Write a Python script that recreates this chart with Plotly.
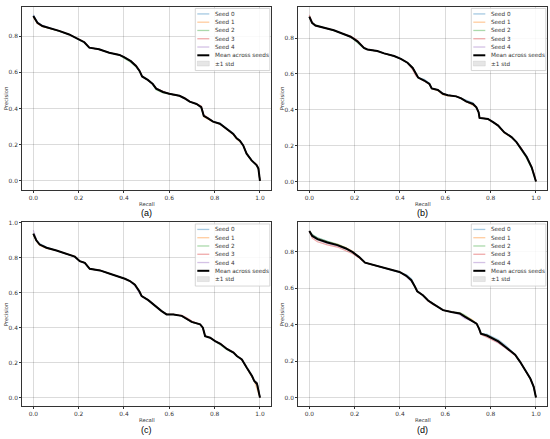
import numpy as np
import plotly.graph_objects as go

# ---- data ----
# recall grid and mean precision per panel, seed offsets in thousandths

recall_a = [0.0, 0.018, 0.04, 0.07, 0.114, 0.158, 0.2, 0.225, 0.247, 0.29, 0.335, 0.38, 0.40, 0.43,
            0.453, 0.468, 0.48, 0.505, 0.527, 0.542, 0.572, 0.60, 0.645, 0.667, 0.69, 0.72, 0.741,
            0.752, 0.771, 0.793, 0.823, 0.852, 0.882, 0.897, 0.911, 0.926, 0.941, 0.963, 0.985, 0.993, 1.0]
prec_a = [0.91, 0.873, 0.855, 0.844, 0.829, 0.809, 0.78, 0.767, 0.736, 0.727, 0.708, 0.696, 0.685, 0.663,
          0.635, 0.608, 0.577, 0.558, 0.535, 0.511, 0.492, 0.481, 0.47, 0.456, 0.437, 0.425, 0.406,
          0.36, 0.346, 0.328, 0.315, 0.287, 0.26, 0.236, 0.223, 0.196, 0.15, 0.113, 0.086, 0.068, 0.0]
dev_a = [
    [8, 4, 3, 2, 0, 0, 0, 0, 0, 0, 0, 0, 0, 0, 0, 0, 0, 0, 0, 0, 0, 0, 0, 0, 0, 0, 0, 0, 0, 0, 4, 6, 3, 0, 0, 0, 0, 0, 0, 0, 0],
    [-6, -4, -2, 0, 0, 0, 0, 0, 0, 0, 0, 0, 0, 0, 0, 0, 0, 0, 0, 0, 0, 0, 0, 0, 0, 0, 0, -6, -4, -3, 0, -3, -4, -5, -6, 0, 0, 0, 0, 0, 0],
    [0, 0, 0, 0, 0, 0, 0, -4, 0, 0, 0, 0, -8, -8, -5, 0, 0, 0, 0, -8, -6, 0, 0, 0, 0, 0, 0, 0, 0, 0, 0, 0, 0, 0, 0, 0, 0, 0, 0, 0, 0],
    [0, -3, -2, 0, 0, 0, 0, 0, 0, 0, 0, 0, 0, 0, 5, 4, 0, 0, 0, 0, 3, 0, 0, 3, 3, 0, 8, 5, 0, 0, 0, 0, 0, 0, 0, 0, 0, 0, 5, 4, 0],
    [4, 5, 4, 3, 0, 0, 0, 0, 0, 0, 0, 0, 0, 0, 0, 0, 0, 0, 0, 0, 0, 0, 0, 0, 0, 0, 0, 0, 0, 0, 0, 0, 0, 0, 0, 0, 0, 0, 0, 0, 0],
]

recall_b = [0.0, 0.012, 0.027, 0.064, 0.108, 0.145, 0.182, 0.212, 0.241, 0.256, 0.30, 0.33, 0.374, 0.404,
            0.433, 0.456, 0.47, 0.48, 0.507, 0.53, 0.54, 0.567, 0.589, 0.611, 0.648, 0.67, 0.692, 0.722,
            0.737, 0.747, 0.751, 0.788, 0.811, 0.833, 0.86, 0.892, 0.914, 0.936, 0.959, 0.981, 0.993, 1.0]
prec_b = [0.918, 0.885, 0.87, 0.857, 0.844, 0.826, 0.807, 0.783, 0.746, 0.737, 0.728, 0.715, 0.70, 0.684,
          0.663, 0.636, 0.604, 0.58, 0.562, 0.543, 0.519, 0.512, 0.491, 0.482, 0.475, 0.464, 0.445, 0.432,
          0.414, 0.386, 0.355, 0.349, 0.331, 0.312, 0.275, 0.248, 0.22, 0.183, 0.137, 0.081, 0.035, 0.0]
dev_b = [
    [0, 0, 0, 0, 0, 0, 0, 0, 0, 0, 0, 0, 0, 0, 0, 0, 0, 0, 8, 6, 0, 0, 0, 0, 0, 0, 8, 8, 0, 0, 0, 0, 0, 0, 0, 0, 0, 0, 6, 0, 0, 0],
    [0, 0, 0, 0, 0, 0, 0, 0, 0, 0, 0, 0, 0, 0, 0, 0, 0, 0, 0, 0, 0, -5, -6, -4, 0, 0, 0, -5, 0, 0, 0, 0, 0, 0, -4, 0, 0, 0, 0, 0, 0, 0],
    [0, 0, 4, 3, 0, 0, 0, -8, -4, 0, 0, 0, 0, 0, 0, 0, 0, 0, 0, 0, 0, 0, 0, 0, 0, 0, 0, 0, 0, 0, 0, 0, 0, 0, 0, 0, 0, -5, -8, -8, -6, 0],
    [12, 4, 0, 0, 0, 0, 4, 5, 0, 0, 0, 0, 0, 0, 0, -12, -14, 0, 0, 0, 0, 0, 0, 0, 0, 0, 0, 0, 0, 0, 0, 0, 0, 0, 0, 0, 0, 0, 0, 0, 0, 0],
    [0, 0, 0, 0, 0, 0, 0, 0, 0, 0, 0, 0, 0, 0, 0, 0, 0, 0, 0, 0, 0, 0, 0, 0, 0, 0, 0, 0, 0, 0, 0, 0, 0, 0, 0, 0, 0, 0, 0, 0, 0, 0],
]

recall_c = [0.0, 0.013, 0.028, 0.058, 0.102, 0.146, 0.183, 0.205, 0.227, 0.249, 0.294, 0.338, 0.375, 0.404,
            0.426, 0.448, 0.468, 0.478, 0.507, 0.53, 0.544, 0.566, 0.588, 0.618, 0.655, 0.677, 0.699, 0.736,
            0.748, 0.758, 0.78, 0.802, 0.825, 0.854, 0.883, 0.898, 0.92, 0.942, 0.965, 0.975, 0.987, 1.0]
prec_c = [0.933, 0.90, 0.876, 0.857, 0.842, 0.823, 0.806, 0.781, 0.771, 0.737, 0.728, 0.709, 0.695, 0.68,
          0.667, 0.648, 0.61, 0.581, 0.558, 0.533, 0.514, 0.495, 0.476, 0.476, 0.467, 0.451, 0.432, 0.419,
          0.40, 0.352, 0.343, 0.324, 0.31, 0.28, 0.257, 0.238, 0.219, 0.171, 0.124, 0.095, 0.086, 0.0]
dev_c = [
    [0, 0, 5, 5, 0, 0, 0, 0, 0, 0, 0, 0, 0, 0, 0, 0, 0, 0, 0, 0, 0, 0, 0, 0, 0, 0, 0, 0, 0, 0, 0, 0, 0, 0, 0, 0, 0, 0, 0, 0, 0, 0],
    [0, -4, -6, -3, 0, 0, 3, 0, 0, 0, 0, 0, 0, 0, 0, 0, 0, 0, 0, 0, 0, 0, 0, 0, 0, 0, 0, 0, 0, 0, 0, 0, 0, 0, 0, 0, 0, 0, 0, 0, -40, 0],
    [0, 0, 0, 0, 0, 0, 0, 0, 0, 0, 0, 0, 0, 0, 0, 0, 0, 0, 0, 0, 0, 0, 0, 0, 0, 0, 0, 0, 0, 0, 0, 0, -8, -6, 0, 0, 0, 0, 0, 0, 0, 0],
    [0, 0, 0, 0, 0, 0, 0, 0, 0, 0, 0, 0, 0, 0, 0, 0, 0, 0, 0, 0, 0, 0, 0, 0, 4, 6, 6, 0, 0, 0, 0, 0, 0, 0, 5, 0, 0, 0, 0, 0, 0, 0],
    [25, 6, 0, 0, 0, 0, 0, 0, 0, 0, 0, 0, 0, 0, 0, -8, -12, 0, 0, 0, 0, 0, 0, 0, 0, 0, 0, 0, 0, 0, 0, 0, 0, 0, 0, 0, 0, 0, 0, 0, 0, 0],
]

recall_d = [0.0, 0.013, 0.036, 0.08, 0.124, 0.161, 0.191, 0.22, 0.246, 0.272, 0.317, 0.361, 0.398, 0.428,
            0.45, 0.465, 0.476, 0.501, 0.524, 0.546, 0.568, 0.59, 0.627, 0.664, 0.686, 0.716, 0.738,
            0.749, 0.757, 0.783, 0.812, 0.834, 0.864, 0.886, 0.908, 0.93, 0.953, 0.975, 0.99, 1.0]
prec_d = [0.915, 0.888, 0.87, 0.851, 0.837, 0.818, 0.80, 0.773, 0.741, 0.732, 0.718, 0.703, 0.69, 0.668,
          0.644, 0.611, 0.584, 0.562, 0.534, 0.516, 0.498, 0.48, 0.47, 0.461, 0.443, 0.424, 0.406,
          0.379, 0.352, 0.343, 0.325, 0.31, 0.279, 0.256, 0.236, 0.196, 0.15, 0.104, 0.059, 0.0]
dev_d = [
    [0, 6, 8, 8, 6, 5, 0, 0, 0, 0, 0, 0, 0, 8, 10, 0, 0, 0, 0, 0, 0, 0, 0, 0, 0, 0, 0, 0, 0, 5, 5, 8, 10, 8, 0, 0, 0, 0, 0, 0],
    [0, 0, 3, 4, 5, 6, 4, 0, 0, 0, 0, 0, 0, 0, 0, 0, 0, 0, 0, 0, 0, 0, 0, 3, 5, 6, 0, 0, 0, 0, 0, 0, 0, 0, 0, 0, 0, 0, 0, 0],
    [0, 8, 8, 7, 6, 5, 0, 0, 0, 0, 0, 0, 0, 0, 0, 0, 0, 0, 0, 0, 0, 0, 0, 6, 10, 0, 0, 0, 0, 0, 0, 0, 0, 0, 0, 0, 0, 0, 0, 0],
    [0, -12, -14, -12, -10, -10, -10, -6, 0, 0, 0, 0, 0, 0, 0, 0, 0, 0, -4, -5, 0, 0, 0, 0, 0, 0, 0, 0, -6, -12, -10, -10, -6, -6, -5, 0, 0, 0, 0, 0],
    [0, -2, -3, -4, -4, 0, 0, 0, 0, 0, 0, 0, 0, -4, -6, 0, 0, 0, 0, 0, 0, 0, 0, -6, -8, -3, 0, 0, 0, -4, -6, -8, -4, 0, 0, 0, 0, 0, 0, 0],
]

seed_names = ['Seed 0', 'Seed 1', 'Seed 2', 'Seed 3', 'Seed 4']
seed_colors = ['rgba(31,119,180,0.4)', 'rgba(255,127,14,0.4)', 'rgba(44,160,44,0.4)',
               'rgba(214,39,40,0.4)', 'rgba(148,103,189,0.4)']
captions = ['(a)', '(b)', '(c)', '(d)']
x_ticks = [0.0, 0.2, 0.4, 0.6, 0.8, 1.0]
y_ticks = [0.0, 0.2, 0.4, 0.6, 0.8, 1.0]

W, H = 550, 439

# frame of each panel in pixels: left, top, right, bottom
frames = [(22, 4, 271.3, 188), (298, 4, 547.3, 188),
          (22, 221, 271.3, 406), (298, 221, 547.3, 406)]
y_ranges = [[-0.049, 0.961], [-0.046, 0.974], [-0.049, 1.002], [-0.048, 0.962]]

panels = [(recall_a, prec_a, dev_a), (recall_b, prec_b, dev_b),
          (recall_c, prec_c, dev_c), (recall_d, prec_d, dev_d)]


def px(x):
    return x / W


def py(y):
    return 1 - y / H


fig = go.Figure()
shapes = []
annotations = []
tick_font = dict(family='DejaVu Sans', size=5.9, color='#333333')
label_font = dict(family='DejaVu Sans', size=5.3, color='#333333')

for k, (rec, prec, devs) in enumerate(panels):
    ax = '' if k == 0 else str(k + 1)
    rec = np.array(rec)
    seeds = np.array([np.array(prec) + np.array(d) / 1000.0 for d in devs])
    seeds = np.clip(seeds, 0, None)
    mean = seeds.mean(axis=0)
    std = seeds.std(axis=0)

    for s in range(5):
        fig.add_trace(go.Scatter(x=rec, y=seeds[s], mode='lines', name=seed_names[s],
                                 line=dict(color=seed_colors[s], width=1.2),
                                 xaxis='x' + ax, yaxis='y' + ax, showlegend=False, hoverinfo='skip'))
    fig.add_trace(go.Scatter(x=np.concatenate([rec, rec[::-1]]),
                             y=np.concatenate([mean + std, (mean - std)[::-1]]),
                             fill='toself', fillcolor='rgba(128,128,128,0.2)', line=dict(width=0),
                             mode='lines', xaxis='x' + ax, yaxis='y' + ax, showlegend=False, hoverinfo='skip'))
    fig.add_trace(go.Scatter(x=rec, y=mean, mode='lines', name='Mean across seeds',
                             line=dict(color='black', width=2),
                             xaxis='x' + ax, yaxis='y' + ax, showlegend=False))

    left, top, right, bottom = frames[k]
    axis_common = dict(showgrid=True, gridcolor='rgba(0,0,0,0.14)', gridwidth=0.8, zeroline=False,
                       showline=True, linecolor='#333333', linewidth=0.8, mirror=True,
                       ticks='outside', ticklen=2, tickwidth=0.8, tickcolor='#333333',
                       tickfont=tick_font)
    fig.update_layout(**{
        'xaxis' + ax: dict(domain=[px(left), px(right)], range=[-0.05, 1.05], anchor='y' + ax,
                           tickvals=x_ticks, ticktext=['%.1f' % t for t in x_ticks], **axis_common),
        'yaxis' + ax: dict(domain=[py(bottom), py(top)], range=y_ranges[k], anchor='x' + ax,
                           tickvals=y_ticks, ticktext=['%.1f' % t for t in y_ticks], **axis_common),
    })

    cx = (left + right) / 2
    cy = (top + bottom) / 2
    centred = dict(xref='paper', yref='paper', xanchor='center', yanchor='middle', showarrow=False)
    annotations.append(dict(text='Recall', x=px(cx), y=py(bottom + 14), font=label_font, **centred))
    annotations.append(dict(text='Precision', x=px(left - 16), y=py(cy), textangle=-90,
                            font=label_font, **centred))
    annotations.append(dict(text=captions[k], x=px(cx), y=py(bottom + 23.5),
                            font=dict(family='Liberation Sans', size=9, color='black'), **centred))

    # legend box drawn by hand (plotly's legend rows are too tall for this size)
    bx0, bx1 = right - 76, right - 1.5
    by0, by1 = top + 1.5, top + 64
    shapes.append(dict(type='rect', xref='paper', yref='paper', x0=px(bx0), x1=px(bx1),
                       y0=py(by1), y1=py(by0), fillcolor='rgba(255,255,255,0.85)',
                       line=dict(color='#cccccc', width=0.8)))
    labels = seed_names + ['Mean across seeds', '\u00b11 std']
    for i, lab in enumerate(labels):
        ey = top + 7 + i * 8.33
        if i < 5:
            shapes.append(dict(type='line', xref='paper', yref='paper', x0=px(bx0 + 2), x1=px(bx0 + 14),
                               y0=py(ey), y1=py(ey), line=dict(color=seed_colors[i], width=1.3)))
        elif i == 5:
            shapes.append(dict(type='line', xref='paper', yref='paper', x0=px(bx0 + 2), x1=px(bx0 + 14),
                               y0=py(ey), y1=py(ey), line=dict(color='black', width=2)))
        else:
            shapes.append(dict(type='rect', xref='paper', yref='paper', x0=px(bx0 + 2), x1=px(bx0 + 14),
                               y0=py(ey + 2.5), y1=py(ey - 2.5), fillcolor='rgba(128,128,128,0.2)',
                               line=dict(color='rgba(128,128,128,0.25)', width=0.5)))
        annotations.append(dict(text=lab, x=px(bx0 + 18), y=py(ey), xref='paper', yref='paper',
                                xanchor='left', yanchor='middle', showarrow=False,
                                font=dict(family='DejaVu Sans', size=5.7, color='#333333')))

fig.update_layout(width=W, height=H, margin=dict(l=0, r=0, t=0, b=0),
                  paper_bgcolor='white', plot_bgcolor='white',
                  shapes=shapes, annotations=annotations, showlegend=False)

# the page body has a default margin; remove it so the figure fills the window
fig.write_html('out.html', config={'displayModeBar': False},
               post_script="document.body.style.margin='0';")
